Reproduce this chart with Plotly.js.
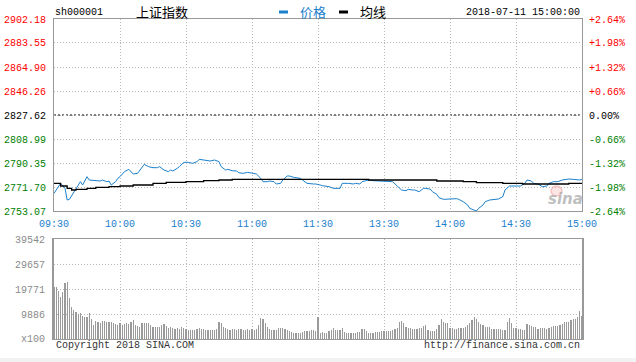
<!DOCTYPE html>
<html>
<head>
<meta charset="utf-8">
<script src="https://cdn.plot.ly/plotly-3.0.1.min.js"></script>
<style>
html,body{margin:0;padding:0;background:#fff;}
#chart{width:636px;height:362px;}
</style>
</head>
<body>
<div id="chart"></div>
<script>
// ---- data ----
const stockCode = "sh000001";
const stockName = "上证指数";
const stamp = "2018-07-11 15:00:00";
const prevClose = 2827.62;
const priceRange = [2753.07, 2902.18];
const priceTicks = [2753.07, 2771.70, 2790.35, 2808.99, 2827.62, 2846.26, 2864.90, 2883.55, 2902.18];
const pctTicks = [-2.64, -1.98, -1.32, -0.66, 0.00, 0.66, 1.32, 1.98, 2.64];
const volTicks = [0, 9886, 19771, 29657, 39542];
const volTickLabels = ["x100", "9886", "19771", "29657", "39542"];
const tickMinutes = [0, 30, 60, 90, 120, 150, 180, 210, 240];
const tickLabels = ["09:30", "10:00", "10:30", "11:00", "11:30", "13:30", "14:00", "14:30", "15:00"];

const priceMinutes = [0,3,5,6,7,10,12,13,15,16,19,21,22,24,25,26,28,29,30,32,
  34,36,38,39,41,43,45,47,48,50,52,53,54,56,57,59,61,63,65,66,
  69,71,73,75,76,78,79,81,83,84,86,88,89,91,92,94,95,97,98,100,
  101,103,104,106,107,109,110,112,113,115,118,119,121,122,125,127,130,131,134,136,
  137,139,140,143,145,148,151,154,156,158,160,161,163,164,166,168,169,171,172,174,
  175,177,180,183,184,186,188,189,192,193,195,196,198,200,202,204,205,207,210,212,
  214,215,217,218,220,222,224,225,227,229,231,234,236,239,240];
const priceValues = [2766.78,2774.55,2770.66,2761.60,2762.12,2770.66,2775.84,2773.25,2779.72,2777.13,2776.62,2776.36,2777.13,2775.84,2776.36,2773.25,2775.84,2778.43,2779.72,2783.61,
  2785.42,2781.79,2782.31,2784.90,2789.30,2787.49,2786.71,2786.71,2787.49,2784.90,2783.61,2784.90,2784.12,2786.20,2787.49,2790.86,2790.86,2790.08,2791.37,2793.19,
  2792.67,2791.89,2792.67,2791.37,2787.49,2784.90,2785.42,2784.38,2784.12,2782.83,2782.31,2783.09,2782.83,2781.79,2781.79,2778.43,2775.84,2775.84,2776.36,2775.84,
  2774.03,2774.55,2777.13,2780.24,2780.24,2779.21,2778.95,2778.43,2777.13,2774.55,2774.03,2774.03,2773.25,2772.74,2771.96,2770.66,2770.66,2774.55,2774.55,2774.03,
  2774.55,2774.03,2775.84,2777.13,2776.62,2776.36,2776.62,2775.84,2772.47,2769.37,2768.85,2769.88,2769.37,2769.37,2768.07,2770.66,2770.66,2770.14,2768.07,2766.00,
  2763.41,2762.12,2762.38,2762.64,2762.12,2760.31,2757.72,2755.13,2753.06,2755.13,2757.72,2760.31,2761.60,2762.12,2762.38,2764.19,2769.37,2772.47,2772.47,2772.47,
  2774.55,2777.13,2776.36,2774.55,2774.03,2771.96,2772.47,2774.55,2775.84,2775.84,2777.13,2777.91,2777.65,2777.13,2777.77];

const avgMinutes = [0,3,6,8,10,15,19,25,30,36,45,51,60,68,75,81,120,134,143,155,174,186,192,204,213,225,234,240];
const avgValues = [2774.55,2772.47,2770.66,2769.37,2769.88,2770.66,2771.44,2771.96,2772.47,2773.25,2774.55,2775.32,2775.84,2776.62,2777.13,2777.65,2777.65,2777.65,2777.13,2777.13,2776.36,2775.84,2775.06,2774.55,2774.03,2774.03,2774.55,2774.55];

const volumes = [20460,20460,19008,16764,18612,22044,22440,16104,12540,11484,10824,
  9900,10164,9108,8844,8844,10164,7788,5544,7128,6864,
  6204,7128,7128,6864,6864,6864,6204,5808,5544,6204,
  5544,5808,6468,6072,6864,7524,5544,5148,4884,6204,
  6204,6468,6204,5412,4620,4884,4620,4884,5412,5808,
  5280,4488,4884,4224,3960,4224,3828,4620,4224,3828,
  3564,3564,3432,3564,3828,4224,3960,3828,3564,3564,
  3564,3564,3564,3828,6600,6204,4620,4224,3828,3564,
  3828,3960,3696,3960,3960,3564,3564,3828,3564,3828,
  3432,3828,5544,8184,7920,6204,4620,3828,3564,3564,
  3696,4224,4224,4224,3960,3564,3168,2772,2244,2508,
  2508,2508,2772,3036,3300,3300,3564,3564,3300,8580,
  2244,2640,2244,2508,3300,3564,4224,3564,3564,3564,
  4224,2640,2244,2244,2244,2244,2508,2904,2904,3828,
  3828,3168,2244,2244,2508,2904,2904,2904,3168,3168,
  3300,3300,3300,3564,3828,4224,6732,7128,6204,4884,
  4488,4224,3960,3960,3960,4488,4488,5280,5544,3564,
  3300,3300,3300,3828,5544,7788,6864,6468,6468,4488,
  4224,3828,3960,4224,4224,4224,4884,5544,6204,7524,
  8844,7788,6864,5940,5544,4884,4620,4620,4092,3828,
  3828,3828,3960,3564,3564,6864,8184,6468,4488,4224,
  3828,3828,3564,3564,5808,5544,5148,4620,4620,3960,
  4224,4488,4224,3960,4488,4884,5148,5148,5148,5544,
  5808,6600,6864,6864,7524,7788,8052,8844,11088,9000];
const volMinutes = volumes.map((v, i) => i);

// ---- styling ----
const RED = "#ff0000", GREEN = "#008000", BLACK = "#000000";
const BLUE = "#1a80cc";
const MONO = "Liberation Mono, DejaVu Sans Mono, monospace";
const CJK = "Noto Sans CJK SC, sans-serif";
function colorFor(v, ref) { return v > ref + 1e-9 ? RED : (v < ref - 1e-9 ? GREEN : BLACK); }
const toPct = p => (p - prevClose) / prevClose * 100;
const priceTickText = priceTicks.map(v => `<span style="color:${colorFor(v, prevClose)}">${v.toFixed(2)}</span>`);
const pctTickVals = priceTicks.map(toPct);
const pctTickText = pctTicks.map(v => `<span style="color:${colorFor(v, 0)}">${v > 0 ? "+" : ""}${v.toFixed(2)}%</span>`);
const pctRange = priceRange.map(toPct);

const gridCol = "#b8b8b8";
const frameCol = "#999999";
const TOP = 0.4, VOLTOP = 0.3116;

const traces = [
  { x: priceMinutes, y: priceValues.map(toPct), type: "scatter", mode: "lines", showlegend: false,
    line: { color: "rgba(0,0,0,0)", width: 0 }, xaxis: "x", yaxis: "y2", hoverinfo: "skip" },
  { x: priceMinutes, y: priceValues, type: "scatter", mode: "lines", name: "价格",
    line: { color: BLUE, width: 1 }, xaxis: "x", yaxis: "y", hoverinfo: "skip" },
  { x: avgMinutes, y: avgValues, type: "scatter", mode: "lines", name: "均线",
    line: { color: "#000", width: 1.3, shape: "hv" }, xaxis: "x", yaxis: "y", hoverinfo: "skip" },
  { x: volMinutes, y: volumes, type: "bar", name: "成交量", marker: { color: "#9a9a9a", line: { width: 0 } },
    width: 0.5, xaxis: "x2", yaxis: "y3", hoverinfo: "skip" }
];

const layout = {
  width: 636, height: 362,
  margin: { l: 54, r: 54, t: 19, b: 23, pad: 0 },
  paper_bgcolor: "#fff", plot_bgcolor: "#fff",
  showlegend: false, bargap: 0,
  font: { family: MONO, size: 10, color: "#000" },
  xaxis: {
    domain: [0, 1], anchor: "y", range: [0, 240],
    tickmode: "array", tickvals: tickMinutes, ticktext: tickLabels,
    tickfont: { color: BLUE, size: 10, family: MONO },
    ticks: "outside", ticklen: 3, tickcolor: "rgba(0,0,0,0)",
    showgrid: true, gridcolor: gridCol, griddash: "1px,2px", gridwidth: 1,
    showline: true, linecolor: frameCol, linewidth: 1, mirror: true, zeroline: false
  },
  yaxis: {
    domain: [TOP, 1], anchor: "x", range: priceRange,
    tickmode: "array", tickvals: priceTicks, ticktext: priceTickText,
    ticks: "outside", ticklen: 5, tickcolor: "rgba(0,0,0,0)",
    showgrid: true, gridcolor: gridCol, griddash: "1px,2px", gridwidth: 1,
    showline: true, linecolor: frameCol, linewidth: 1, mirror: true, zeroline: false
  },
  yaxis2: {
    overlaying: "y", side: "right", anchor: "x", range: pctRange,
    tickmode: "array", tickvals: pctTickVals, ticktext: pctTickText,
    ticks: "outside", ticklen: 4, tickcolor: "rgba(0,0,0,0)",
    showgrid: false, zeroline: false, showline: false
  },
  xaxis2: {
    domain: [0, 1], anchor: "y3", range: [0, 240],
    tickmode: "array", tickvals: tickMinutes, showticklabels: false,
    showgrid: true, gridcolor: gridCol, griddash: "1px,2px", gridwidth: 1,
    showline: true, linecolor: frameCol, linewidth: 1, mirror: true, zeroline: false
  },
  yaxis3: {
    domain: [0, VOLTOP], anchor: "x2", range: [0, volTicks[volTicks.length - 1]],
    tickmode: "array", tickvals: volTicks, ticktext: volTickLabels,
    tickfont: { color: "#8a8a8a", size: 10, family: MONO },
    ticks: "outside", ticklen: 5, tickcolor: "rgba(0,0,0,0)",
    showgrid: true, gridcolor: gridCol, griddash: "1px,2px", gridwidth: 1,
    showline: true, linecolor: frameCol, linewidth: 2, mirror: true, zeroline: false
  },
  shapes: [
    { type: "line", xref: "x", yref: "y", x0: 0, x1: 240, y0: prevClose, y1: prevClose,
      line: { color: "#000", width: 1, dash: "2px,2px" }, layer: "below" },
    { type: "rect", xref: "paper", yref: "paper", x0: (279 - 54) / 528, x1: (288 - 54) / 528,
      y0: (339 - 13.5) / 320, y1: (339 - 10.5) / 320, fillcolor: BLUE, line: { width: 0 } },
    { type: "rect", xref: "paper", yref: "paper", x0: (339 - 54) / 528, x1: (348 - 54) / 528,
      y0: (339 - 13.5) / 320, y1: (339 - 10.5) / 320, fillcolor: "#000", line: { width: 0 } },
    { type: "rect", xref: "paper", yref: "paper", x0: -54 / 528, x1: 582 / 528, y0: (339 - 362) / 320, y1: (339 - 358) / 320,
      fillcolor: "#f2f2f2", line: { width: 0 } },
    { type: "circle", xref: "paper", yref: "paper", x0: (551 - 54) / 528, x1: (562 - 54) / 528,
      y0: (339 - 196) / 320, y1: (339 - 186) / 320, fillcolor: "rgba(245,170,170,0.3)",
      line: { color: "rgba(235,140,140,0.45)", width: 1.5 } }
  ],
  annotations: [
    { text: stockCode, xref: "paper", yref: "paper", x: -1 / 528, y: (339 - 12.5) / 320, xanchor: "left", yanchor: "middle",
      showarrow: false, font: { family: MONO, size: 10, color: "#000" } },
    { text: stockName, xref: "paper", yref: "paper", x: (134 - 54) / 528, y: (339 - 12) / 320, xanchor: "left", yanchor: "middle",
      showarrow: false, font: { family: CJK, size: 13, color: "#000" } },
    { text: "价格", xref: "paper", yref: "paper", x: (298 - 54) / 528, y: (339 - 12) / 320, xanchor: "left", yanchor: "middle",
      showarrow: false, font: { family: CJK, size: 13, color: BLUE } },
    { text: "均线", xref: "paper", yref: "paper", x: (358 - 54) / 528, y: (339 - 12) / 320, xanchor: "left", yanchor: "middle",
      showarrow: false, font: { family: CJK, size: 13, color: "#000" } },
    { text: stamp, xref: "paper", yref: "paper", x: (582 - 54) / 528, y: (339 - 12.5) / 320, xanchor: "right", yanchor: "middle",
      showarrow: false, font: { family: MONO, size: 10, color: "#000" } },
    { text: "Copyright 2018 SINA.COM", xref: "paper", yref: "paper", x: 0, y: (339 - 345.5) / 320, xanchor: "left", yanchor: "middle",
      showarrow: false, font: { family: MONO, size: 10, color: "#333" } },
    { text: "http://finance.sina.com.cn", xref: "paper", yref: "paper", x: 1, y: (339 - 345.5) / 320, xanchor: "right", yanchor: "middle",
      showarrow: false, font: { family: MONO, size: 10, color: "#333" } },
    { text: "<b><i>sina</i></b>", xref: "paper", yref: "paper", x: (565 - 54) / 528, y: (339 - 199) / 320, xanchor: "center", yanchor: "middle",
      showarrow: false, font: { family: "DejaVu Sans, sans-serif", size: 15, color: "rgba(170,170,170,0.75)" } }
  ]
};

Plotly.newPlot("chart", traces, layout, { staticPlot: true, displayModeBar: false });
</script>
</body>
</html>
